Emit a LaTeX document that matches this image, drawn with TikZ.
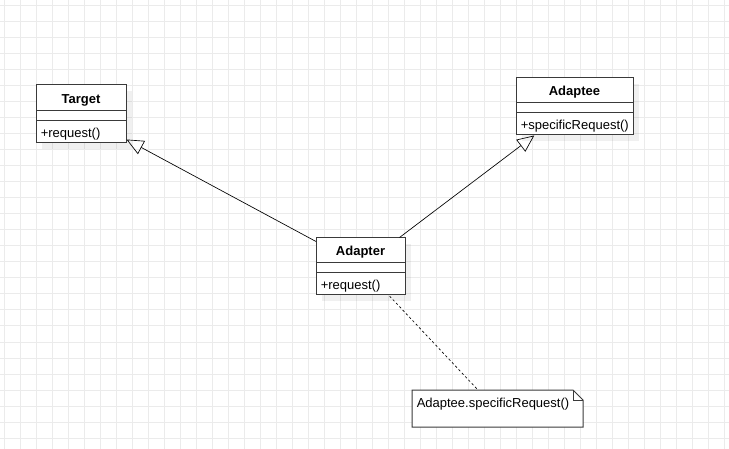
\documentclass[tikz,border=0pt]{standalone}
\usepackage{fontspec}
\setmainfont{Liberation Sans}
\usetikzlibrary{arrows.meta,fit}
\definecolor{gridc}{HTML}{EBEBEB}
\definecolor{boxc}{HTML}{3A3A3A}
\newcommand\fsz{\fontsize{9.75pt}{11pt}\selectfont}
\tikzset{
  classbox/.style={draw=boxc, line width=0.75pt, inner sep=0pt, fill=white},
  shadowbox/.style={fill=black, fill opacity=0.06, draw=none},
  sepline/.style={draw=boxc, line width=0.75pt},
  titletext/.style={font=\fsz\bfseries, inner sep=0pt},
  membertext/.style={font=\fsz, inner sep=0pt, anchor=west},
  inherit/.style={draw=black, line width=0.5pt, -{Triangle[open, length=12.75pt, width=11.25pt]}},
  notelink/.style={draw=black, line width=0.5pt, dash pattern=on 1.8pt off 1.8pt},
  notebox/.style={draw=boxc, line width=0.75pt, fill=white},
}
\begin{document}
\begin{tikzpicture}[x=0.75pt,y=-0.75pt]
\useasboundingbox (0,0) rectangle (729,449);
% grid
\foreach \gx in {0,...,45} {\draw[gridc, line width=0.75pt] (4+16*\gx,0) -- (4+16*\gx,449);}
\foreach \gy in {0,...,27} {\draw[gridc, line width=0.75pt] (0,6+16*\gy) -- (729,6+16*\gy);}

% shadows
\fill[shadowbox] (42,91) rectangle (132,149);
\fill[shadowbox] (522,84) rectangle (639,141);
\fill[shadowbox] (322,244) rectangle (411,301);

% Target
\node[classbox, fit={(36,85) (126,143)}] (target) {};
\draw[sepline] (36,111) -- (126,111);
\draw[sepline] (36,121) -- (126,121);
\node[titletext] (targetT) at (81,100) {Target};
\node[membertext] (targetM) at (40.5,134) {+request()};

% Adaptee
\node[classbox, fit={(516,78) (633,135)}] (adaptee) {};
\draw[sepline] (516,103) -- (633,103);
\draw[sepline] (516,113) -- (633,113);
\node[titletext] (adapteeT) at (574.5,92.5) {Adaptee};
\node[membertext] (adapteeM) at (520.5,126) {+specificRequest()};

% Adapter
\node[classbox, fit={(316,238) (405,295)}] (adapter) {};
\draw[sepline] (316,263) -- (405,263);
\draw[sepline] (316,273) -- (405,273);
\node[titletext] (adapterT) at (360.5,252.5) {Adapter};
\node[membertext] (adapterM) at (320.5,286) {+request()};

% Note
\node[fit={(412,390) (583,427)}, inner sep=0pt] (note) {};
\draw[notebox] (412,390) -- (573,390) -- (583,400) -- (583,427) -- (412,427) -- cycle;
\draw[sepline] (573,390) -- (573,400) -- (583,400);
\node[membertext] (noteT) at (416.5,404.5) {Adaptee.specificRequest()};

% connectors
\coordinate (a1) at (316,241.5);
\coordinate (t1) at (126.5,139.5);
\coordinate (a2) at (399.5,237.5);
\coordinate (t2) at (534.3,135.5);
\coordinate (a3) at (389.5,296);
\coordinate (n3) at (477.5,389.5);
\draw[inherit] (a1) -- (t1);
\draw[inherit] (a2) -- (t2);
\draw[notelink] (a3) -- (n3);
\end{tikzpicture}
\end{document}
